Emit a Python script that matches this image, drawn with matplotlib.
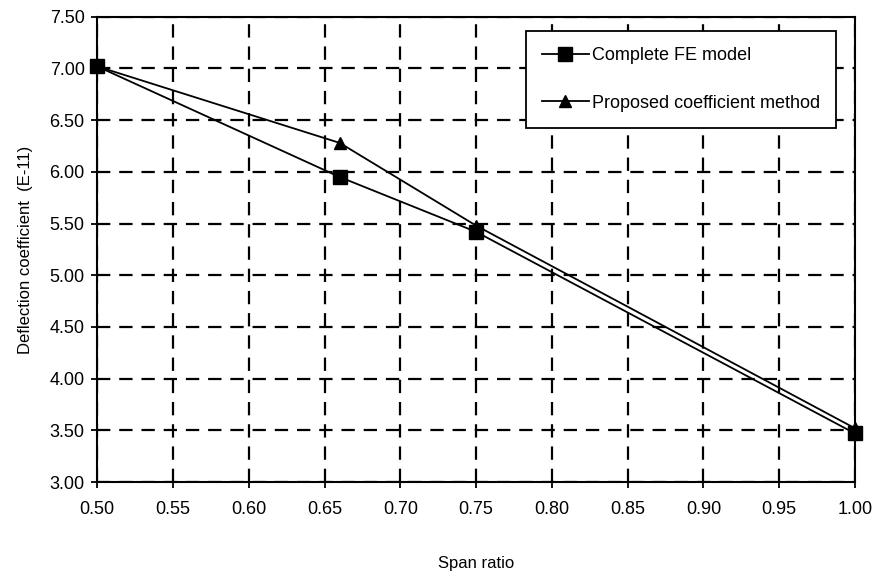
import numpy as np
import matplotlib.pyplot as plt

plt.rcParams['font.family'] = ['Liberation Sans', 'DejaVu Sans']

# --------------------
# data
# --------------------
span = [0.50, 0.66, 0.75, 1.00]
fe_model = [7.02, 5.95, 5.42, 3.47]
proposed = [7.02, 6.28, 5.48, 3.52]

x_ticks = np.arange(0.50, 1.001, 0.05)
y_ticks = np.arange(3.00, 7.501, 0.50)

# --------------------
# draw
# --------------------
fig = plt.figure(figsize=(8.76, 5.78), dpi=100)
ax = fig.add_axes([0.111, 0.166, 0.865, 0.805])

ax.plot(span, fe_model, color='black', lw=1.3, marker='s', ms=10,
        label='Complete FE model', clip_on=False, zorder=5)
ax.plot(span, proposed, color='black', lw=1.3, marker='^', ms=9,
        label='Proposed coefficient method', clip_on=False, zorder=5)

ax.set_xlim(0.50, 1.00)
ax.set_ylim(3.00, 7.50)
ax.set_xticks(x_ticks)
ax.set_yticks(y_ticks)
ax.set_xticklabels([f'{v:.2f}' for v in x_ticks])
ax.set_yticklabels([f'{v:.2f}' for v in y_ticks])
ax.tick_params(direction='inout', length=8, width=1.3, labelsize=13)
ax.tick_params(axis='x', pad=10)
ax.tick_params(axis='y', pad=5)

ax.grid(True, color='black', ls=(0, (6, 4)), lw=1.6)
for s in ax.spines.values():
    s.set_linewidth(1.5)

ax.set_xlabel('Span ratio', fontsize=12, labelpad=27)
ax.set_ylabel('Deflection coefficient  (E-11)', fontsize=12, labelpad=12)

leg = ax.legend(loc='upper right', bbox_to_anchor=(0.975, 0.97), fontsize=13,
                frameon=True, fancybox=False, edgecolor='black',
                labelspacing=1.7, handlelength=2.6, handletextpad=0.15,
                borderpad=0.9, borderaxespad=0)
leg.get_frame().set_linewidth(1.3)
leg.get_frame().set_facecolor('white')
leg.get_frame().set_alpha(1)

fig.savefig('out.png', dpi=100)
